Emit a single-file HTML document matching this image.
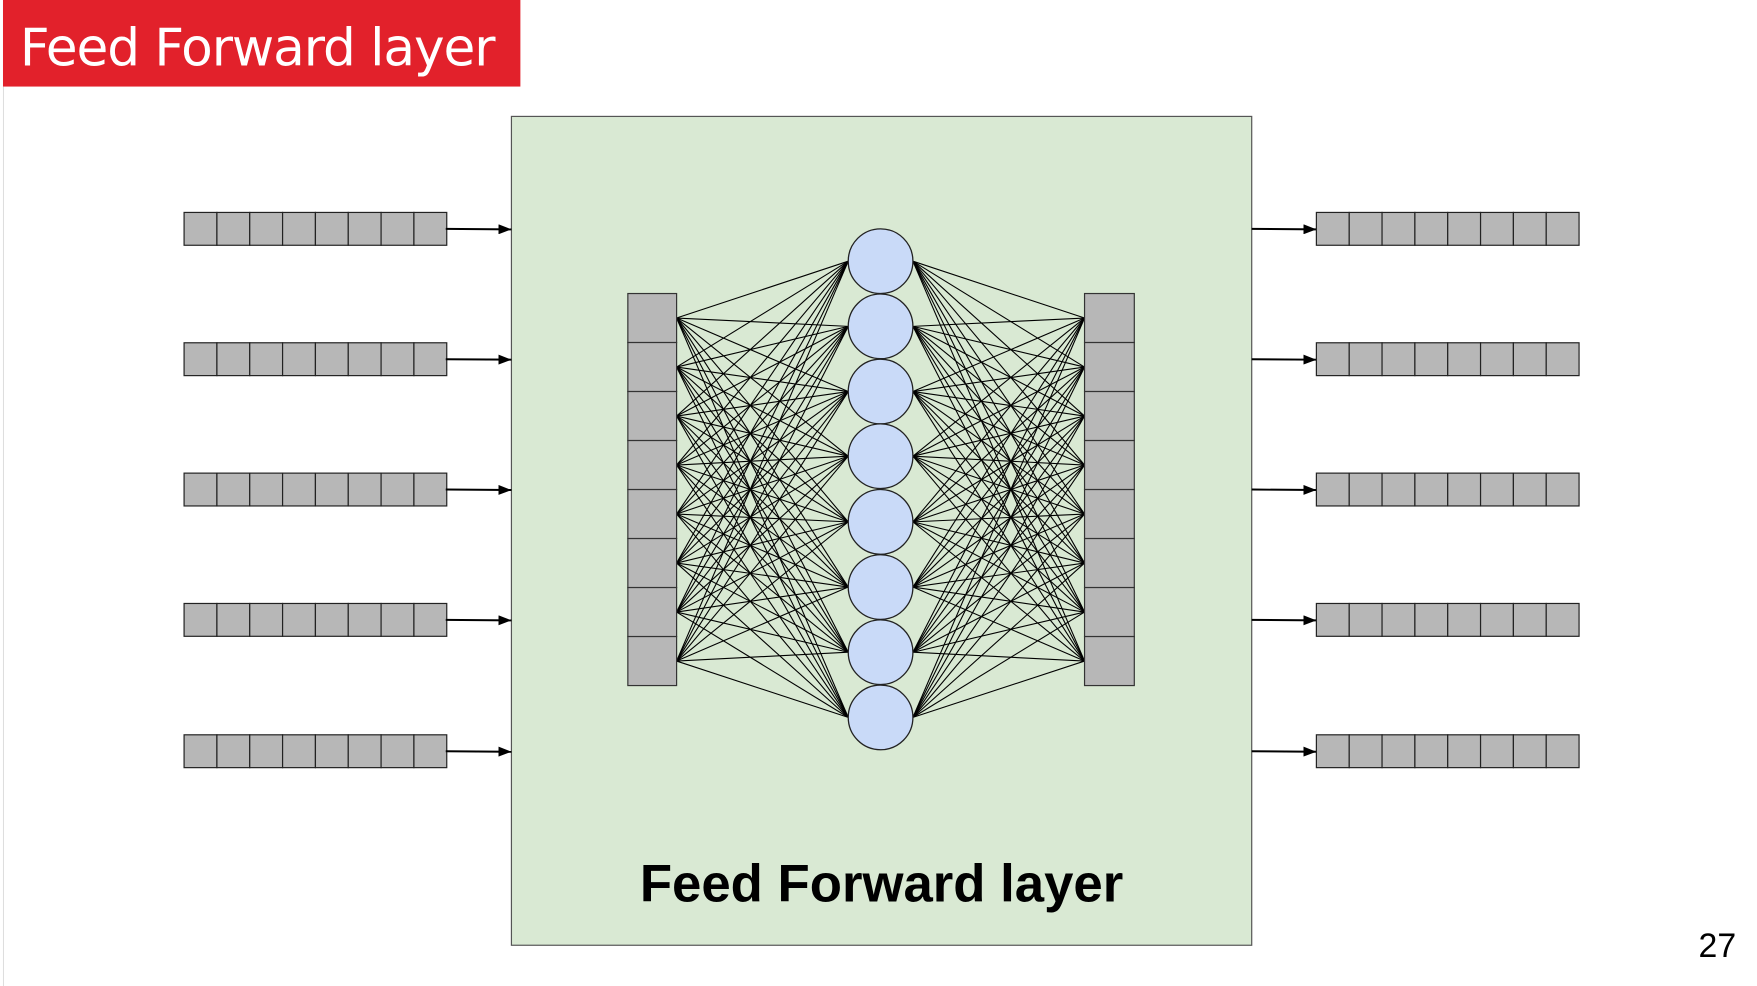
<!DOCTYPE html>
<html><head><meta charset="utf-8"><style>
html,body{margin:0;padding:0;background:#fff;width:1757px;height:986px;overflow:hidden}
svg{display:block}
</style></head><body>
<svg id="s" width="1757" height="986" viewBox="0 0 1757 986" xmlns="http://www.w3.org/2000/svg">
<defs><marker id="ah" markerWidth="13" markerHeight="10" refX="13" refY="5" orient="auto" markerUnits="userSpaceOnUse"><path d="M0,0 L13,5 L0,10 Z" fill="#000"/></marker></defs>
<g transform="scale(0.995)">
<line x1="3.5" y1="87" x2="3.5" y2="992" stroke="#ddd" stroke-width="1"/>
<rect x="3" y="0" width="520" height="87" fill="#e2212b"/>
<text x="20" y="66" font-family="'DejaVu Sans','Liberation Sans',sans-serif" font-size="52" fill="#fff" textLength="478">Feed Forward layer</text>
<rect x="514" y="117" width="744" height="833" fill="#d9e9d3" stroke="#555" stroke-width="1.2"/>
<g id="net"></g>
<text x="886" y="906" text-anchor="middle" font-family="'Liberation Sans',sans-serif" font-weight="bold" font-size="53" fill="#000">Feed Forward layer</text>
<text x="1726" y="962" text-anchor="middle" font-family="'Liberation Sans',sans-serif" font-size="34" fill="#000">27</text>
</g>
</svg>
<script>
const vecRows=[230,361,492,623,755];
const cells=8;
const colCells=8;
const neurons=[262.5,328,393.5,458.5,524.5,590,655.5,721];
const NS="http://www.w3.org/2000/svg";
const g=document.getElementById('net');
function mk(t,a){const e=document.createElementNS(NS,t);for(const k in a)e.setAttribute(k,a[k]);g.appendChild(e);return e;}
function vec(x0,yc,name){const w=(264)/cells,h=33;
 for(let i=0;i<cells;i++){const r=mk('rect',{x:x0+i*w,y:yc-h/2,width:w,height:h,fill:'#b7b7b7',stroke:'#222','stroke-width':1.2});
 
 }}
vecRows.forEach((y,i)=>{
 vec(185,y,'input-vector');
 const a=mk('line',{x1:448,y1:y,x2:514,y2:y+0.5,stroke:'#000','stroke-width':2,'marker-end':'url(#ah)'});
 
 
 const b=mk('line',{x1:1258,y1:y,x2:1323,y2:y+0.5,stroke:'#000','stroke-width':2,'marker-end':'url(#ah)'});
 
 
 vec(1323,y,'output-vector');
});
const colTop=295,colBot=689,ch=(colBot-colTop)/colCells,cx=885,rad=32.5;
const lx=680,rx=1090;
for(let i=0;i<colCells;i++){const y=colTop+(i+0.5)*ch;
 neurons.forEach(ny=>{
  const l=mk('line',{x1:lx,y1:y,x2:cx-rad,y2:ny,stroke:'#000','stroke-width':1.1});
  
  
  const m=mk('line',{x1:cx+rad,y1:ny,x2:rx,y2:y,stroke:'#000','stroke-width':1.1});
  
  
 });}
for(let i=0;i<colCells;i++){
 const a=mk('rect',{x:631,y:colTop+i*ch,width:49,height:ch,fill:'#b7b7b7',stroke:'#333','stroke-width':1.2});
 
 
 const b=mk('rect',{x:1090,y:colTop+i*ch,width:50,height:ch,fill:'#b7b7b7',stroke:'#333','stroke-width':1.2});
 
 
}
neurons.forEach(ny=>{const c=mk('circle',{cx:cx,cy:ny,r:rad,fill:'#c9daf8',stroke:'#222','stroke-width':1.3});
 
 });
</script>
</body></html>
